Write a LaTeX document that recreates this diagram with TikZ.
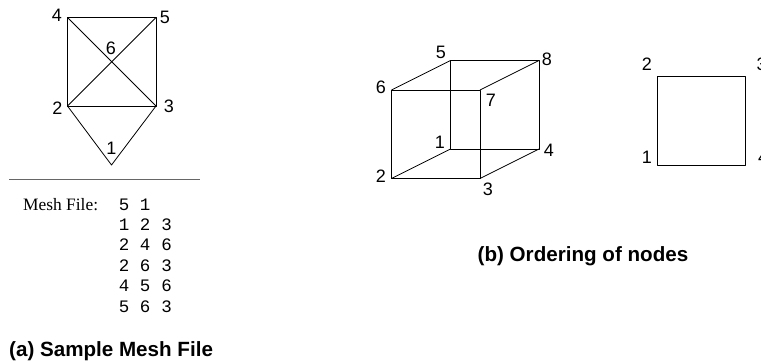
\documentclass[tikz,border=0pt]{standalone}
\usepackage{fontspec}
\setmainfont{Liberation Sans}
\newfontfamily\serifface{Liberation Serif}
\newfontfamily\monoface{Liberation Mono}
\tikzset{
  edge/.style={draw=black,line width=0.8pt,line join=round},
  num/.style={inner sep=0pt,font=\fontsize{18}{18}\selectfont,text=black},
  captext/.style={inner sep=0pt,anchor=base west,font=\fontsize{20.6}{21}\selectfont\bfseries},
  rulerline/.style={draw=black!60,line width=1pt},
  mono/.style={inner sep=0pt,anchor=base,font=\fontsize{17.5}{18}\monoface}
}
\begin{document}
\begin{tikzpicture}[x=1pt,y=-1pt]
\useasboundingbox (0,0) rectangle (761,362);
\clip (0,0) rectangle (761,362);
% mesh
\coordinate (m1) at (111.5,165);
\coordinate (m2) at (67.5,106);
\coordinate (m3) at (156,106);
\coordinate (m4) at (67.5,17.5);
\coordinate (m5) at (156,17.5);
\draw[edge] (m4)--(m5)--(m3)--(m2)--cycle;
\draw[edge] (m4)--(m3);
\draw[edge] (m2)--(m5);
\draw[edge] (m2)--(m1)--(m3);
\node[num] (lm4) at (57,15) {4};
\node[num] (lm5) at (165,17) {5};
\node[num] (lm6) at (111,48) {6};
\node[num] (lm2) at (57.5,108) {2};
\node[num] (lm3) at (169,106) {3};
\node[num] (lm1) at (111.5,148) {1};
\coordinate (r1) at (9,179);
\coordinate (r2) at (200,179);
\draw[rulerline] (r1)--(r2);
\node[inner sep=0pt,anchor=base west,font=\fontsize{17.4}{18}\serifface] (mf) at (23,210) {Mesh File:};
\foreach \row/\a/\b/\c/\y in {a/5/1//210,b/1/2/3/230,c/2/4/6/250.7,d/2/6/3/271,e/4/5/6/291.7,f/5/6/3/312.5}{
  \node[mono] (t\row1) at (124,\y) {\a};
  \node[mono] (t\row2) at (145,\y) {\b};
  \node[mono] (t\row3) at (166.5,\y) {\c};
}
\node[captext] (capa) at (9,356) {(a) Sample Mesh File};
% cube
\coordinate (c1) at (450.5,149);
\coordinate (c2) at (391.5,178.5);
\coordinate (c3) at (480,178.5);
\coordinate (c4) at (539,149);
\coordinate (c5) at (450.5,60.5);
\coordinate (c6) at (391.5,90);
\coordinate (c7) at (480,90);
\coordinate (c8) at (539,60.5);
\draw[edge] (c6)--(c7)--(c3)--(c2)--cycle;
\draw[edge] (c5)--(c8)--(c4)--(c1)--cycle;
\draw[edge] (c6)--(c5);
\draw[edge] (c7)--(c8);
\draw[edge] (c3)--(c4);
\draw[edge] (c2)--(c1);
\node[num] (lc5) at (441,52) {5};
\node[num] (lc8) at (547,59) {8};
\node[num] (lc6) at (381,87) {6};
\node[num] (lc7) at (491,100) {7};
\node[num] (lc1) at (440,142) {1};
\node[num] (lc4) at (549,150) {4};
\node[num] (lc2) at (381,176) {2};
\node[num] (lc3) at (488,189) {3};
% square
\coordinate (s1) at (657,165);
\coordinate (s2) at (657,76.5);
\coordinate (s3) at (745.5,76.5);
\coordinate (s4) at (745.5,165);
\draw[edge] (s1)--(s2)--(s3)--(s4)--cycle;
\node[num] (ls2) at (647,64) {2};
\node[num] (ls3) at (761.5,64) {3};
\node[num] (ls1) at (647,157) {1};
\node[num] (ls4) at (763,157) {4};
\node[captext] (capb) at (477.5,261) {(b) Ordering of nodes};
\end{tikzpicture}
\end{document}
